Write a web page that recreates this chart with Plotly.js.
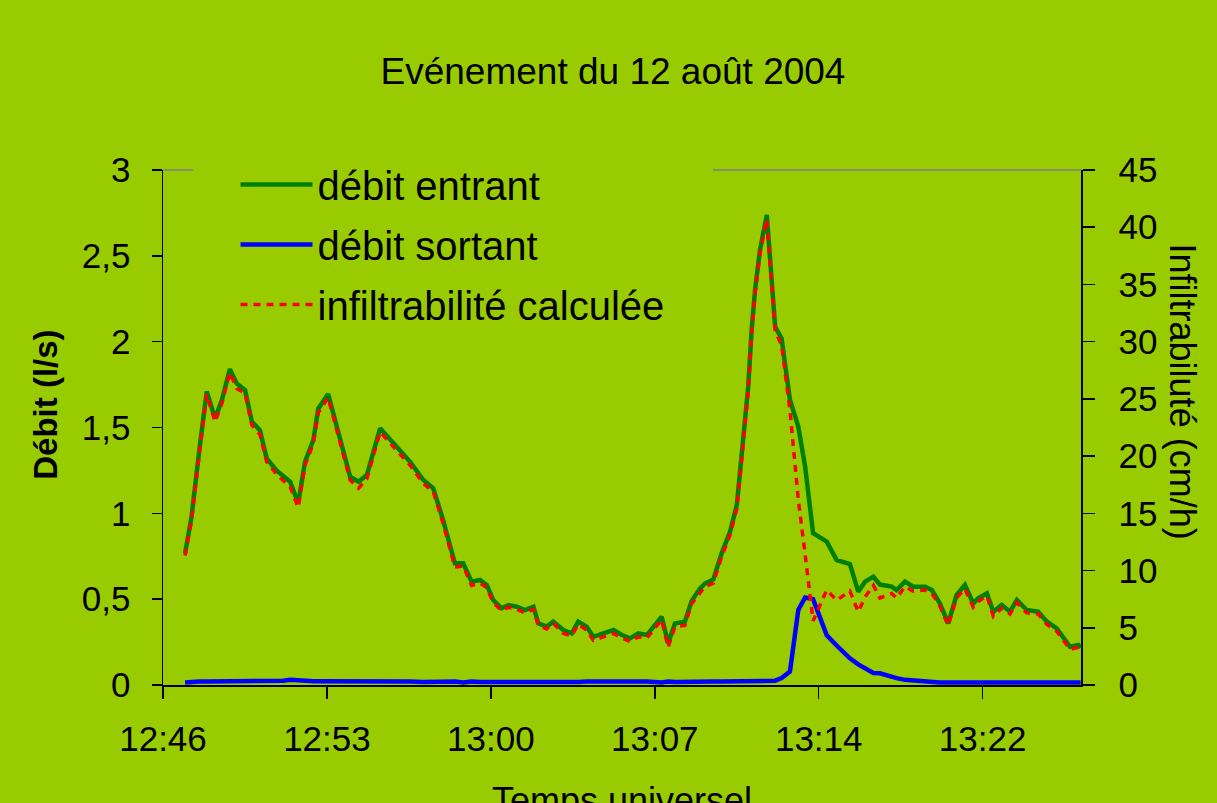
<!DOCTYPE html>
<html>
<head>
<meta charset="utf-8">
<script src="https://cdn.plot.ly/plotly-3.0.1.min.js"></script>
<style>
  html, body { margin: 0; padding: 0; background: #99CC00; overflow: hidden; }
  #chart { width: 1217px; height: 803px; }
</style>
</head>
<body>
<div id="chart"></div>
<script>
const jour = "2004-08-12 ";

const temps = [
  "12:47:03","12:47:20","12:47:40","12:48:00","12:48:22","12:48:40","12:49:01","12:49:19","12:49:41","12:49:59",
  "12:50:20","12:50:38","12:51:04","12:51:22","12:51:40","12:52:01","12:52:19","12:52:41","12:52:54","12:53:20",
  "12:53:51","12:54:18","12:54:40","12:55:02","12:55:37","12:56:21","12:56:56","12:57:31","12:57:57","12:58:23",
  "12:58:54","12:59:16","12:59:38","13:00:00","13:00:18","13:00:35","13:00:57","13:01:15","13:01:37","13:01:59",
  "13:02:21","13:02:34","13:02:56","13:03:13","13:03:40","13:04:02","13:04:19","13:04:41","13:04:59","13:05:25",
  "13:05:52","13:06:14","13:06:36","13:06:57","13:07:20","13:07:59","13:08:16","13:08:34","13:09:00","13:09:18",
  "13:09:40","13:09:53","13:10:15","13:10:37","13:10:59","13:11:17","13:11:34","13:11:47","13:11:56","13:12:05",
  "13:12:18","13:12:36","13:12:58","13:13:15","13:13:37","13:13:59","13:14:17","13:14:38","13:15:14","13:15:40",
  "13:16:15","13:16:37","13:16:55","13:17:17","13:17:34","13:18:05","13:18:18","13:18:40","13:19:02","13:19:33",
  "13:19:51","13:20:12","13:20:34","13:20:56","13:21:18","13:21:40","13:21:53","13:22:16","13:22:33","13:22:55",
  "13:23:17","13:23:35","13:24:01","13:24:31","13:24:54","13:25:20","13:25:55","13:26:17","13:26:23"
];

// débit entrant (l/s)
const debitEntrant = [
  0.767,0.98,1.36,1.71,1.553,1.66,1.84,1.757,1.718,1.534,
  1.485,1.32,1.25,1.213,1.184,1.058,1.30,1.427,1.61,1.695,
  1.45,1.213,1.184,1.223,1.495,1.39,1.30,1.194,1.146,0.961,
  0.709,0.709,0.602,0.612,0.583,0.495,0.447,0.466,0.456,0.437,
  0.456,0.359,0.340,0.369,0.32,0.301,0.369,0.340,0.281,0.301,
  0.32,0.291,0.272,0.301,0.291,0.398,0.243,0.359,0.369,0.49,
  0.563,0.59,0.615,0.767,0.893,1.049,1.427,1.738,2.068,2.30,
  2.534,2.738,2.087,2.019,1.66,1.505,1.272,0.884,0.835,0.728,
  0.705,0.544,0.602,0.631,0.585,0.573,0.553,0.602,0.573,0.573,
  0.553,0.476,0.359,0.524,0.583,0.476,0.505,0.534,0.427,0.466,
  0.427,0.495,0.437,0.427,0.369,0.330,0.223,0.233,0.216
];

// débit sortant (l/s)
const debitSortant = [
  0.015,0.02,0.02,0.02,0.02,0.022,0.022,0.02,0.02,0.022,
  0.022,0.02,0.022,0.025,0.03,0.025,0.022,0.022,0.022,0.022,
  0.022,0.022,0.022,0.022,0.025,0.022,0.02,0.018,0.02,0.018,
  0.02,0.015,0.02,0.018,0.018,0.015,0.015,0.015,0.015,0.015,
  0.015,0.012,0.015,0.012,0.018,0.015,0.018,0.02,0.02,0.022,
  0.02,0.02,0.02,0.018,0.02,0.015,0.02,0.018,0.02,0.02,
  0.02,0.018,0.02,0.02,0.02,0.02,0.022,0.022,0.022,0.022,
  0.022,0.022,0.025,0.04,0.078,0.437,0.51,0.50,0.29,0.23,
  0.155,0.12,0.10,0.07,0.068,0.045,0.04,0.03,0.025,0.02,
  0.018,0.015,0.015,0.015,0.02,0.015,0.018,0.015,0.015,0.018,
  0.015,0.015,0.015,0.015,0.015,0.015,0.015,0.015,0.015
];

// infiltrabilité calculée (cm/h)
const infiltrabilite = [
  11.3,14.4,20.1,25.4,23.0,24.6,27.3,25.9,25.5,22.7,
  21.9,19.5,18.4,17.8,17.3,15.5,19.2,21.1,23.8,25.1,
  21.4,17.9,17.2,18.0,22.1,20.5,19.2,17.6,16.9,14.1,
  10.3,10.4,8.7,8.9,8.5,7.2,6.5,6.8,6.6,6.3,
  6.6,5.2,4.9,5.4,4.5,4.3,5.3,4.8,3.9,4.2,
  4.5,4.1,3.8,4.2,4.1,5.7,3.3,5.1,5.2,7.1,
  8.1,8.6,8.9,11.2,13.1,15.4,21.1,25.7,30.7,34.2,
  37.7,40.7,30.9,29.7,24.0,16.2,11.4,5.6,8.3,7.4,
  8.2,6.4,7.7,8.7,7.6,8.0,7.6,8.6,8.2,8.3,
  8.0,6.9,5.2,7.6,8.4,6.8,7.3,7.8,6.0,6.7,
  6.2,7.2,6.3,6.2,5.3,4.7,3.1,3.3,3.2
];

const tickPositions = ["12:46:04.8","12:53:16.8","13:00:28.8","13:07:40.8","13:14:52.8","13:22:04.8"];
const tickLabels = ["12:46","12:53","13:00","13:07","13:14","13:22"];
const xRange = ["12:46:04.8","13:26:24"];

const x = temps.map(t => jour + t);
const FONT = '"Liberation Sans", Arial, sans-serif';
const BG = '#99CC00';

const traces = [
  { x: x, y: debitEntrant, name: 'débit entrant', type: 'scatter', mode: 'lines',
    line: { color: '#008000', width: 4.5 }, yaxis: 'y', legendgroup: 'a' },
  { x: x, y: debitSortant, name: 'débit sortant', type: 'scatter', mode: 'lines',
    line: { color: '#0000FF', width: 4.5 }, yaxis: 'y', legendgroup: 'b' },
  { x: x, y: infiltrabilite, name: 'infiltrabilité calculée', type: 'scatter', mode: 'lines',
    line: { color: '#FF0000', width: 3.5, dash: '7px,6px' }, yaxis: 'y2', legendgroup: 'c' }
];

const axisCommon = {
  showgrid: false, zeroline: false, showline: true, linecolor: '#000', linewidth: 1.5,
  tickcolor: '#000', tickwidth: 1.5, automargin: false,
  tickfont: { family: FONT, size: 35, color: '#000' }
};

const layout = {
  width: 1217, height: 803,
  paper_bgcolor: BG, plot_bgcolor: BG,
  margin: { l: 163, r: 136, t: 170, b: 118, pad: 0 },
  separators: ', ',
  font: { family: FONT, size: 35, color: '#000' },
  title: {
    text: 'Evénement du 12 août 2004',
    font: { family: FONT, size: 37, color: '#000' },
    xref: 'container', x: 0.5037, xanchor: 'center',
    yref: 'container', y: 0.911, yanchor: 'middle'
  },
  showlegend: true,
  legend: {
    x: 0.079, y: 1.035, xanchor: 'left', yanchor: 'top',
    bgcolor: 'rgba(0,0,0,0)', borderwidth: 0,
    font: { family: FONT, size: 40, color: '#000' },
    itemwidth: 72, tracegroupgap: 5
  },
  xaxis: Object.assign({}, axisCommon, {
    type: 'date',
    range: [jour + xRange[0], jour + xRange[1]],
    tickmode: 'array',
    tickvals: tickPositions.map(t => jour + t),
    ticktext: tickLabels,
    ticks: 'outside', ticklen: 12, ticklabelstandoff: 10
  }),
  yaxis: Object.assign({}, axisCommon, {
    range: [0, 3], dtick: 0.5, tick0: 0,
    ticks: 'outside', ticklen: 10, ticklabelstandoff: 14,
    title: { text: '&nbsp;&nbsp;&nbsp;&nbsp;&nbsp;<b>Débit (l/s)</b>', font: { family: FONT, size: 33, color: '#000' }, standoff: 14 }
  }),
  yaxis2: Object.assign({}, axisCommon, {
    overlaying: 'y', side: 'right', anchor: 'x',
    range: [0, 45], dtick: 5, tick0: 0,
    ticks: 'outside', ticklen: 12, ticklabelstandoff: 17
  }),
  yaxis3: {
    overlaying: 'y', side: 'right', anchor: 'x',
    range: [0, 45], dtick: 5, tick0: 0,
    ticks: 'inside', ticklen: 12, tickwidth: 1.5, tickcolor: '#000',
    showticklabels: false, showline: false, showgrid: false, zeroline: false
  },
  shapes: [
    { type: 'line', xref: 'paper', yref: 'paper', x0: 0, x1: 0.033, y0: 1, y1: 1,
      line: { color: '#808080', width: 1.5 } },
    { type: 'line', xref: 'paper', yref: 'paper', x0: 0.599, x1: 1, y0: 1, y1: 1,
      line: { color: '#808080', width: 1.5 } }
  ],
  annotations: [
    { text: 'Temps universel', showarrow: false,
      xref: 'paper', yref: 'paper', x: 0.5, y: -0.18, xanchor: 'center', yanchor: 'top',
      font: { family: FONT, size: 36, color: '#000' } },
    { text: 'Infiltrabiluté (cm/h)', textangle: 90, showarrow: false,
      xref: 'paper', yref: 'paper', x: 1.111, y: 0.57, xanchor: 'center', yanchor: 'middle',
      font: { family: FONT, size: 36, color: '#000' } }
  ]
};

Plotly.newPlot('chart', traces, layout, { displayModeBar: false, staticPlot: true });
</script>
</body>
</html>
